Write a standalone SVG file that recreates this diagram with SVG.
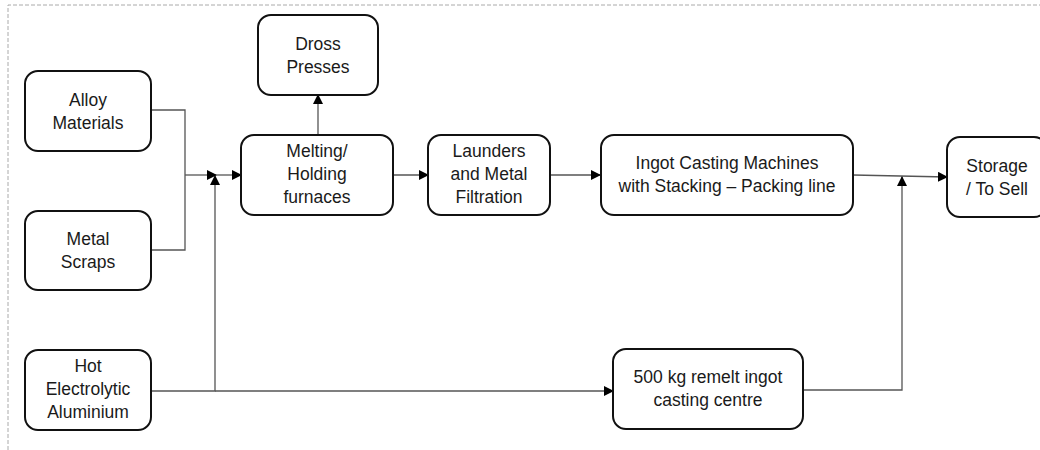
<svg xmlns="http://www.w3.org/2000/svg" width="1040" height="450" viewBox="0 0 1040 450">
<style>
.box{fill:#fff;stroke:#111;stroke-width:2}
.t{font-family:"Liberation Sans",Arial,sans-serif;font-size:17.5px;fill:#1a1a1a;text-anchor:middle}
.c{fill:none;stroke:#555;stroke-width:1.3}
</style>
<defs>
<marker id="a" markerWidth="10" markerHeight="10" refX="9" refY="5" orient="auto" markerUnits="userSpaceOnUse">
<path d="M0,0 L10,5 L0,10 Z" fill="#000"/>
</marker>
</defs>
<rect width="1040" height="450" fill="#fff"/>
<path d="M8,450 V5 H1040" fill="none" stroke="#aaa" stroke-width="1" stroke-dasharray="4,2"/>
<g id="connectors">
<path class="c" d="M151,110 H185 V250 H151"/>
<path class="c" d="M185,175 H216" marker-end="url(#a)"/>
<path class="c" d="M216,175 H241" marker-end="url(#a)"/>
<path class="c" d="M151,391 H215 V176" marker-end="url(#a)"/>
<path class="c" d="M215,391 H613" marker-end="url(#a)"/>
<path class="c" d="M318,135 V95" marker-end="url(#a)"/>
<path class="c" d="M393,175 H428" marker-end="url(#a)"/>
<path class="c" d="M550,175 H600" marker-end="url(#a)"/>
<path class="c" d="M853,175 L947,177" marker-end="url(#a)"/>
<path class="c" d="M803,390 H902 V177" marker-end="url(#a)"/>
</g>
<g id="alloy"><rect class="box" x="25" y="71" width="126" height="80" rx="13"/>
<text class="t" x="88" y="106">Alloy</text><text class="t" x="88" y="129">Materials</text></g>
<g id="scraps"><rect class="box" x="25" y="211" width="126" height="79" rx="13"/>
<text class="t" x="88" y="245">Metal</text><text class="t" x="88" y="268">Scraps</text></g>
<g id="hot"><rect class="box" x="25" y="350" width="126" height="80" rx="13"/>
<text class="t" x="88" y="372">Hot</text><text class="t" x="88" y="395">Electrolytic</text><text class="t" x="88" y="418">Aluminium</text></g>
<g id="dross"><rect class="box" x="258" y="15" width="120" height="80" rx="13"/>
<text class="t" x="318" y="50">Dross</text><text class="t" x="318" y="73">Presses</text></g>
<g id="melting"><rect class="box" x="241" y="135" width="152" height="80" rx="13"/>
<text class="t" x="317" y="157">Melting/</text><text class="t" x="317" y="180">Holding</text><text class="t" x="317" y="203">furnaces</text></g>
<g id="launders"><rect class="box" x="428" y="135" width="122" height="80" rx="13"/>
<text class="t" x="489" y="157">Launders</text><text class="t" x="489" y="180">and Metal</text><text class="t" x="489" y="203">Filtration</text></g>
<g id="ingot"><rect class="box" x="601" y="135" width="252" height="80" rx="13"/>
<text class="t" x="727" y="169">Ingot Casting Machines</text><text class="t" x="727" y="192">with Stacking – Packing line</text></g>
<g id="storage"><rect class="box" x="947" y="137" width="100" height="80" rx="13"/>
<text class="t" x="997" y="172">Storage</text><text class="t" x="997" y="195">/ To Sell</text></g>
<g id="remelt"><rect class="box" x="613" y="349" width="190" height="80" rx="13"/>
<text class="t" x="708" y="383">500 kg remelt ingot</text><text class="t" x="708" y="406">casting centre</text></g>
</svg>
